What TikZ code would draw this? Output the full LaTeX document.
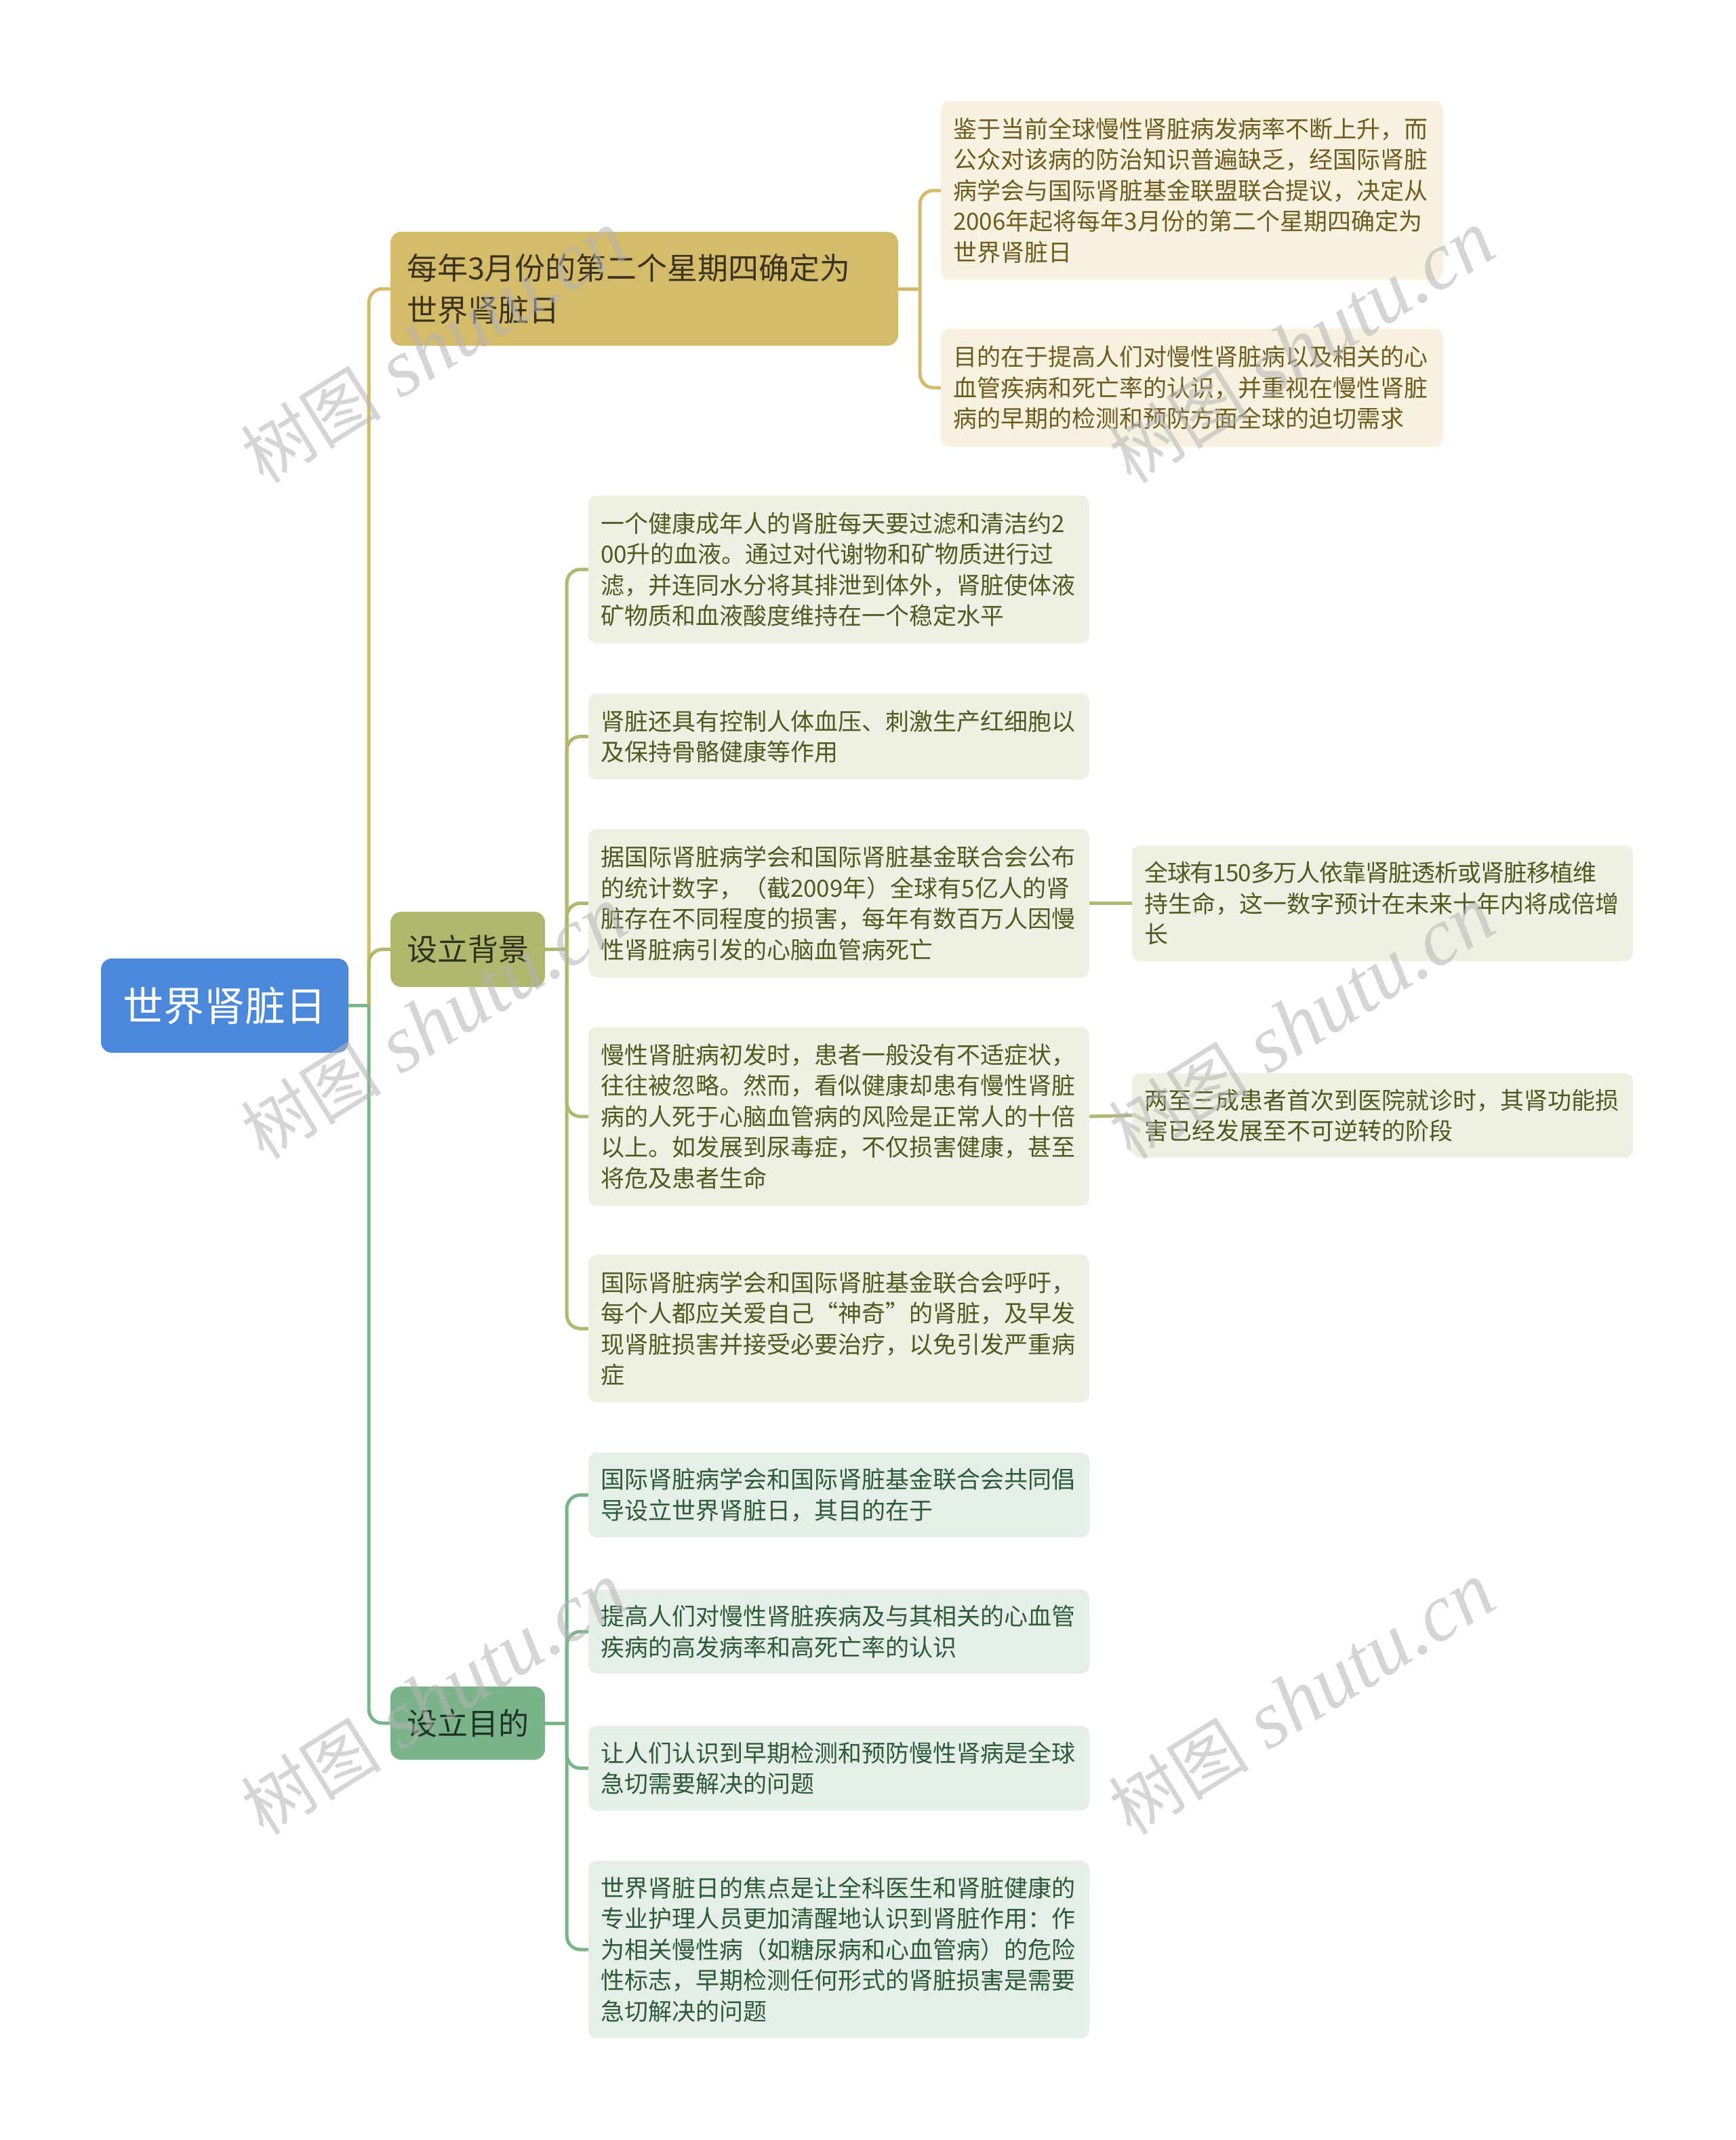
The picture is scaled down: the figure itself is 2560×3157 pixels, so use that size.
\documentclass[tikz,border=0pt]{standalone}
\usepackage{fontspec}
\newfontfamily\cjk{Noto Sans CJK SC}
\newfontfamily\wmlat{Liberation Serif}
\definecolor{rootc}{HTML}{4B87DB}
\definecolor{goldc}{HTML}{D4BC6A}
\definecolor{olivec}{HTML}{B1B86D}
\definecolor{greenc}{HTML}{7BB38B}
\definecolor{goldl}{HTML}{F6F2DF}
\definecolor{olivel}{HTML}{EFF0E4}
\definecolor{greenl}{HTML}{E5EFE8}
\definecolor{goldt}{HTML}{6E5B1F}
\definecolor{olivet}{HTML}{4E5A1E}
\definecolor{greent}{HTML}{2C5A3B}
\definecolor{goldtt}{HTML}{3A3320}
\definecolor{olivett}{HTML}{2E3220}
\definecolor{greentt}{HTML}{1F3326}
\definecolor{wmc}{HTML}{B4B4B4}
\tikzset{
  conn/.style={line width=5pt},
  rootbox/.style={fill=rootc, rounded corners=16pt, text=white, font=\cjk\fontsize{60}{72}\selectfont, minimum width=365pt, minimum height=139pt, inner sep=0pt},
  lone/.style={rounded corners=16pt, font=\cjk\fontsize{45}{62}\selectfont, inner sep=0pt},
  leaf/.style={rounded corners=12pt, font=\cjk\fontsize{35}{45.5}\selectfont, inner xsep=18pt, inner ysep=0pt, align=left, text width=703pt},
  goldleaf/.style={leaf, fill=goldl, text=goldt},
  oliveleaf/.style={leaf, fill=olivel, text=olivet},
  greenleaf/.style={leaf, fill=greenl, text=greent},
  wm/.style={text=wmc, opacity=0.55, rotate=32, inner sep=0pt},
}
\begin{document}
\begin{tikzpicture}[x=1pt,y=-1pt]
\useasboundingbox[fill=white] (0,0) rectangle (2560,3157);

% root
\node[rootbox] (root) at (331.5,1483.5) {世界肾脏日};

% level 1
\node[lone, fill=goldc, text=goldtt, text width=701pt, align=left, inner xsep=24pt, minimum height=168pt] (n1) at (950.5,426) {每年3月份的第二个星期四确定为\\世界肾脏日};
\node[lone, fill=olivec, text=olivett, minimum width=228pt, minimum height=111pt] (bg) at (690,1400.5) {设立背景};
\node[lone, fill=greenc, text=greentt, minimum width=228pt, minimum height=108pt] (md) at (690,2542) {设立目的};

% gold children
\node[goldleaf, text width=705pt, minimum height=264pt] (a) at (1758.5,281) {鉴于当前全球慢性肾脏病发病率不断上升，而\\公众对该病的防治知识普遍缺乏，经国际肾脏\\病学会与国际肾脏基金联盟联合提议，决定从\\2006年起将每年3月份的第二个星期四确定为\\世界肾脏日};
\node[goldleaf, text width=705pt, minimum height=174pt] (b) at (1758.5,572) {目的在于提高人们对慢性肾脏病以及相关的心\\血管疾病和死亡率的认识，并重视在慢性肾脏\\病的早期的检测和预防方面全球的迫切需求};

% olive children
\node[oliveleaf, minimum height=218pt] (c1) at (1237.5,840) {一个健康成年人的肾脏每天要过滤和清洁约2\\00升的血液。通过对代谢物和矿物质进行过\\滤，并连同水分将其排泄到体外，肾脏使体液\\矿物质和血液酸度维持在一个稳定水平};
\node[oliveleaf, minimum height=127pt] (c2) at (1237.5,1086.5) {肾脏还具有控制人体血压、刺激生产红细胞以\\及保持骨骼健康等作用};
\node[oliveleaf, minimum height=219pt] (c3) at (1237.5,1332.5) {据国际肾脏病学会和国际肾脏基金联合会公布\\的统计数字，（截2009年）全球有5亿人的肾\\脏存在不同程度的损害，每年有数百万人因慢\\性肾脏病引发的心脑血管病死亡};
\node[oliveleaf, minimum height=264pt] (c4) at (1237.5,1647) {慢性肾脏病初发时，患者一般没有不适症状，\\往往被忽略。然而，看似健康却患有慢性肾脏\\病的人死于心脑血管病的风险是正常人的十倍\\以上。如发展到尿毒症，不仅损害健康，甚至\\将危及患者生命};
\node[oliveleaf, minimum height=218pt] (c5) at (1237.5,1960) {国际肾脏病学会和国际肾脏基金联合会呼吁，\\每个人都应关爱自己“神奇”的肾脏，及早发\\现肾脏损害并接受必要治疗，以免引发严重病\\症};

% olive grandchildren
\node[oliveleaf, minimum height=171pt] (d1) at (2039.5,1332.5) {{\addfontfeature{LetterSpace=-3}全球有150多万人依靠肾脏透析或肾脏移植维}\\持生命，这一数字预计在未来十年内将成倍增\\长};
\node[oliveleaf, minimum height=125pt] (d2) at (2039.5,1645.5) {两至三成患者首次到医院就诊时，其肾功能损\\害已经发展至不可逆转的阶段};

% green children
\node[greenleaf, minimum height=125pt] (e1) at (1237.5,2205.5) {国际肾脏病学会和国际肾脏基金联合会共同倡\\导设立世界肾脏日，其目的在于};
\node[greenleaf, minimum height=124pt] (e2) at (1237.5,2407) {提高人们对慢性肾脏疾病及与其相关的心血管\\疾病的高发病率和高死亡率的认识};
\node[greenleaf, minimum height=125pt] (e3) at (1237.5,2608.5) {让人们认识到早期检测和预防慢性肾病是全球\\急切需要解决的问题};
\node[greenleaf, minimum height=262pt] (e4) at (1237.5,2876) {世界肾脏日的焦点是让全科医生和肾脏健康的\\专业护理人员更加清醒地认识到肾脏作用：作\\为相关慢性病（如糖尿病和心血管病）的危险\\性标志，早期检测任何形式的肾脏损害是需要\\急切解决的问题};

% connectors root -> level 1
\coordinate (rj) at ([xshift=30pt]root.east);
\draw[conn, goldc, rounded corners=20pt] (rj) |- (n1.west);
\draw[conn, olivec, rounded corners=20pt] (rj) |- (bg.west);
\draw[conn, greenc, rounded corners=20pt] (rj) |- (md.west);
\draw[conn, greenc] (root.east) -- (rj);

% n1 -> children
\coordinate (j1) at ([xshift=32pt]n1.east);
\draw[conn, goldc] (n1.east) -- (j1);
\draw[conn, goldc, rounded corners=20pt] (j1) |- (a.west);
\draw[conn, goldc, rounded corners=20pt] (j1) |- (b.west);

% bg -> children
\coordinate (jb) at ([xshift=32pt]bg.east);
\draw[conn, olivec] (bg.east) -- (jb);
\foreach \t in {c1,c2,c3,c4,c5}{
  \draw[conn, olivec, rounded corners=20pt] (jb) |- (\t.west);
}
\draw[conn, olivec] (c3.east) -- (d1.west);
\draw[conn, olivec] (c4.east) -- (d2.west);

% md -> children
\coordinate (jm) at ([xshift=32pt]md.east);
\draw[conn, greenc] (md.east) -- (jm);
\foreach \t in {e1,e2,e3,e4}{
  \draw[conn, greenc, rounded corners=20pt] (jm) |- (\t.west);
}

% watermarks
\foreach \p/\nm in {{(640,512)}/w1,{(1920,512)}/w2,{(640,1509)}/w3,{(1920,1509)}/w4,{(640,2506)}/w5,{(1920,2506)}/w6}{
  \node[wm] (\nm) at \p {{\cjk\fontsize{104}{104}\selectfont 树图}\hspace{30pt}{\wmlat\itshape\fontsize{120}{120}\selectfont shutu.cn}};
}
\end{tikzpicture}
\end{document}
